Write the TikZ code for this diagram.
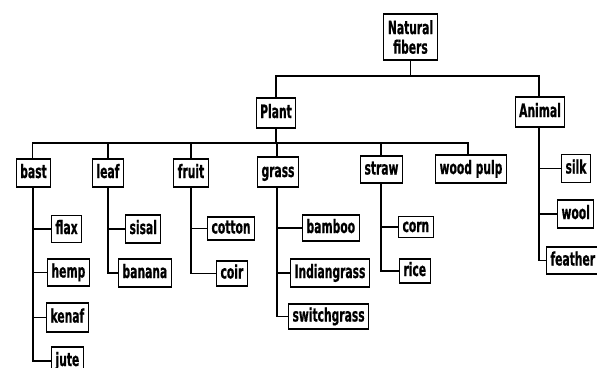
\documentclass[tikz,border=0pt]{standalone}
\usepackage{fontspec}
\newfontfamily\lab[FakeStretch=0.58, BoldFeatures={FakeBold=0.6}]{DejaVu Sans}
\begin{document}
\begin{tikzpicture}[x=1pt,y=-1pt,
  box/.style={draw, line width=1.1pt, font=\lab\bfseries\fontsize{18.5}{19.5}\selectfont,
    inner xsep=4pt, inner ysep=0pt, minimum height=27pt, text height=13.5pt, text depth=3.5pt, align=center},
  conn/.style={line width=1.5pt}]
\useasboundingbox (0,0) rectangle (597,367);
\clip (0,0) rectangle (597,367);
% level 0 and 1
\node[box, minimum height=46pt, text height=, text depth=, inner ysep=2pt] (nf) at (410.5,37) {Natural\\fibers};
\node[box, minimum height=30pt] (plant) at (276,113) {Plant};
\node[box, minimum height=30pt] (animal) at (540,112) {Animal};
% level 2
\node[box, minimum height=28pt] (bast) at (33.5,173) {bast};
\node[box, minimum height=28pt] (leaf) at (108,173) {leaf};
\node[box, minimum height=28pt] (fruit) at (191,173) {fruit};
\node[box, minimum height=30pt] (grass) at (278,172) {grass};
\node[box] (straw) at (381.5,169.5) {straw};
\node[box, minimum height=28pt] (woodpulp) at (471,169) {wood pulp};
% bast children
\node[box, anchor=west] (flax) at (51,229) {flax};
\node[box, anchor=west] (hemp) at (47,272.5) {hemp};
\node[box, anchor=west, minimum height=29pt] (kenaf) at (46,317.5) {kenaf};
\node[box, anchor=west, minimum height=28pt] (jute) at (51,361) {jute};
% leaf children
\node[box, anchor=west, minimum height=28pt] (sisal) at (125,229) {sisal};
\node[box, anchor=west, minimum height=28pt] (banana) at (118,273) {banana};
% fruit children
\node[box, anchor=west, minimum height=23pt] (cotton) at (207,228.5) {cotton};
\node[box, anchor=west, minimum height=25pt] (coir) at (216,273.5) {coir};
% grass children
\node[box, anchor=west, minimum height=26pt] (bamboo) at (302,228) {bamboo};
\node[box, anchor=west, minimum height=28pt] (indiangrass) at (290,273) {Indiangrass};
\node[box, anchor=west, minimum height=25pt] (switchgrass) at (288,316.5) {switchgrass};
% straw children
\node[box, anchor=west, minimum height=21pt] (corn) at (398,227) {corn};
\node[box, anchor=west, minimum height=24pt] (rice) at (399,271) {rice};
% animal children
\node[box, anchor=west, minimum height=28pt] (silk) at (561,168.5) {silk};
\node[box, anchor=west, minimum height=28pt] (wool) at (557,214) {wool};
\node[box, anchor=west, minimum height=27pt] (feather) at (546,260.5) {feather};
% bus coordinates
\coordinate (b1) at (0,76);
\coordinate (b2) at (0,143);
% level 0 -> 1
\draw[conn] (nf.south) -- (nf.south |- b1);
\draw[conn] (plant.north) |- ([xshift=-1pt]animal.north |- b1) -- ([xshift=-1pt]animal.north);
% level 1 -> 2
\draw[conn] (plant.south) -- (plant.south |- b2);
\draw[conn] ([xshift=-1pt]bast.north) |- ([xshift=-3pt]woodpulp.north |- b2) -- ([xshift=-3pt]woodpulp.north);
\draw[conn] (leaf.north) -- (leaf.north |- b2);
\draw[conn] (fruit.north) -- (fruit.north |- b2);
\draw[conn] ([xshift=-1pt]grass.north) -- ([xshift=-1pt]grass.north |- b2);
\draw[conn] ([xshift=-0.5pt]straw.north) -- ([xshift=-0.5pt]straw.north |- b2);
% level 2 -> 3
\draw[conn] ([xshift=-0.5pt]bast.south) |- (jute.west);
\draw[conn] ([xshift=-0.5pt]bast.south |- flax.west) -- (flax.west);
\draw[conn] ([xshift=-0.5pt]bast.south |- hemp.west) -- (hemp.west);
\draw[conn] ([xshift=-0.5pt]bast.south |- kenaf.west) -- (kenaf.west);
\draw[conn] (leaf.south) |- (banana.west);
\draw[conn] (leaf.south |- sisal.west) -- (sisal.west);
\draw[conn] (fruit.south) |- (coir.west);
\draw[conn] (fruit.south |- cotton.west) -- (cotton.west);
\draw[conn] ([xshift=-1pt]grass.south) |- (switchgrass.west);
\draw[conn] ([xshift=-1pt]grass.south |- bamboo.west) -- (bamboo.west);
\draw[conn] ([xshift=-1pt]grass.south |- indiangrass.west) -- (indiangrass.west);
\draw[conn] ([xshift=-0.5pt]straw.south) |- (rice.west);
\draw[conn] ([xshift=-0.5pt]straw.south |- corn.west) -- (corn.west);
\draw[conn] ([xshift=-1pt]animal.south) |- (feather.west);
\draw[conn] ([xshift=-1pt]animal.south |- silk.west) -- (silk.west);
\draw[conn] ([xshift=-1pt]animal.south |- wool.west) -- (wool.west);
\end{tikzpicture}
\end{document}
